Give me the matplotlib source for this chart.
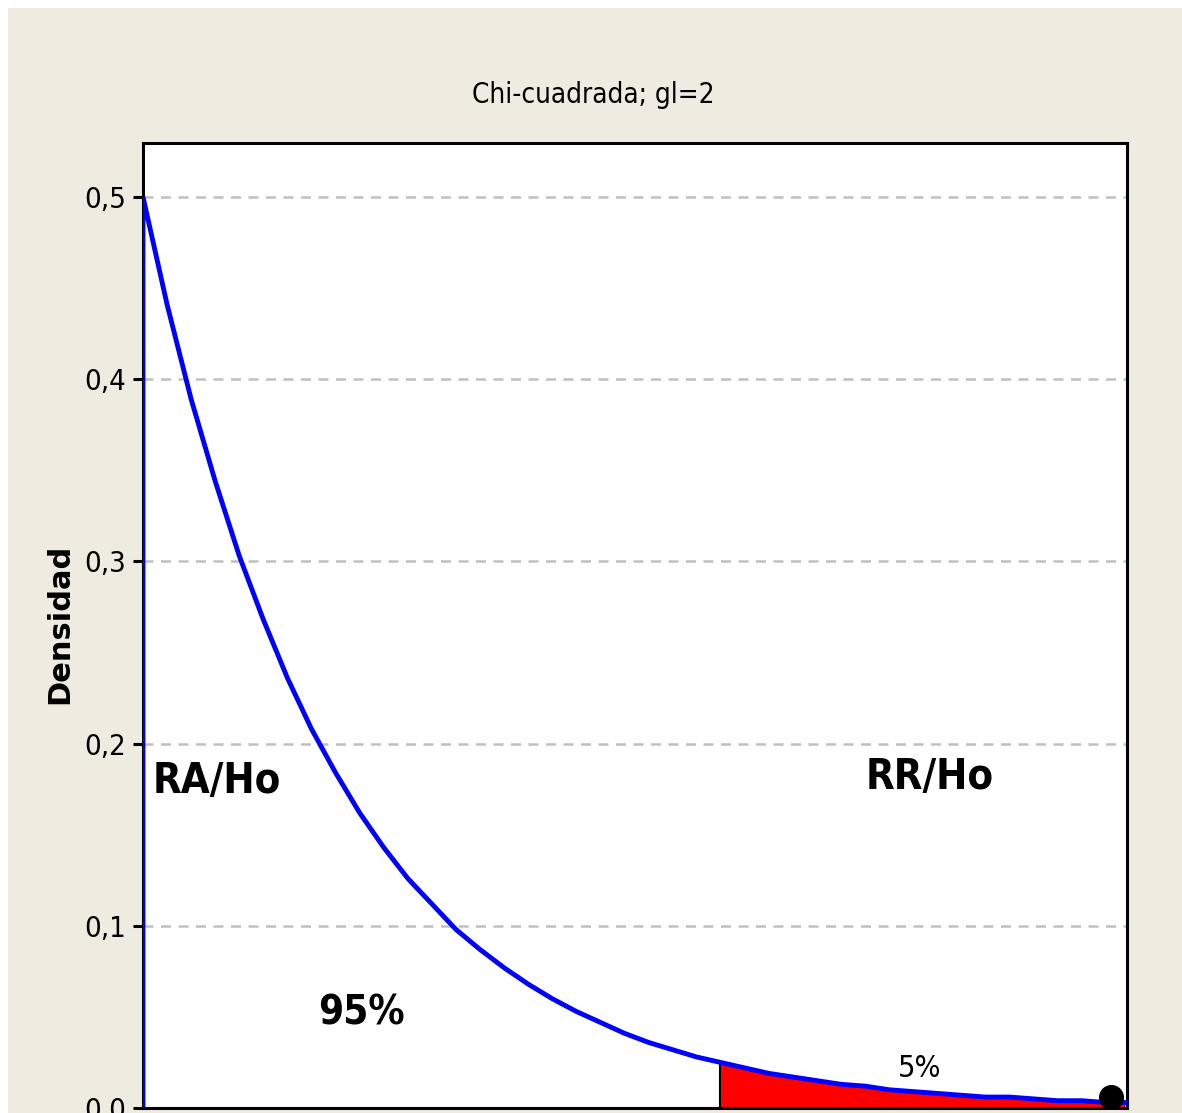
import numpy as np
import matplotlib
matplotlib.use("Agg")
import matplotlib.pyplot as plt
from matplotlib.patches import Rectangle

# density (chi-square, 2 d.f.)
x_vals = [0.0, 0.0, 0.25, 0.5, 0.75, 1.0, 1.25, 1.5, 1.75, 2.0, 2.25, 2.5, 2.75,
          3.0, 3.25, 3.5, 3.75, 4.0, 4.25, 4.5, 4.75, 5.0, 5.25, 5.5, 5.75,
          6.0, 6.25, 6.5, 6.75, 7.0, 7.25, 7.5, 7.75, 8.0, 8.25, 8.5, 8.75,
          9.0, 9.25, 9.5, 9.75, 10.0, 10.2]
densities = [0.0, 0.500, 0.441, 0.389, 0.344, 0.303, 0.268, 0.236, 0.208, 0.184,
             0.162, 0.143, 0.126, 0.112, 0.098, 0.087, 0.077, 0.068, 0.060,
             0.053, 0.047, 0.041, 0.036, 0.032, 0.028, 0.025, 0.022, 0.019,
             0.017, 0.015, 0.013, 0.012, 0.010, 0.009, 0.008, 0.007, 0.006,
             0.006, 0.005, 0.004, 0.004, 0.003, 0.003]
critical_value = 5.991
y_ticks = [0.0, 0.1, 0.2, 0.3, 0.4, 0.5]
y_tick_labels = ["0,0", "0,1", "0,2", "0,3", "0,4", "0,5"]

NARROW = dict(family="DejaVu Sans", stretch="condensed")
BG = "#EFEBE1"

fig = plt.figure(figsize=(11.82, 11.13), dpi=100)
fig.patch.set_facecolor("white")
fig.patches.append(Rectangle((8 / 1182, 0), 1, 1 - 8 / 1113, transform=fig.transFigure,
                             facecolor=BG, edgecolor="none", zorder=-10))

ax = fig.add_axes([143 / 1182, 5 / 1113, (1127 - 143) / 1182, (1108 - 143) / 1113])
ax.set_facecolor("white")
ax.set_xlim(0, 10.22)
ax.set_ylim(0, 0.5296)

x_arr = np.array(x_vals)
d_arr = np.array(densities)
tail_x = np.concatenate([[critical_value], x_arr[x_arr > critical_value]])
tail_y = np.interp(tail_x, x_arr[1:], d_arr[1:])
ax.fill_between(tail_x, 0, tail_y, color="#FF0000", zorder=2, linewidth=0)
ax.plot([critical_value, critical_value], [0, tail_y[0]], color="black", lw=1.5, zorder=3)
ax.plot(x_arr, d_arr, color="#0000FF", lw=3.5, zorder=4, solid_joinstyle="miter")
ax.plot([10.05], [0.006], marker="o", color="black", markersize=17, zorder=5, clip_on=False)

for t in y_ticks[1:]:
    ax.axhline(t, color="#C0C0C0", lw=1.8, ls=(0, (4, 3)), zorder=1)

ax.set_yticks(y_ticks)
ax.set_yticklabels(y_tick_labels, fontsize=21, **NARROW)
ax.set_xticks([])
ax.tick_params(axis="y", direction="out", length=7, width=2.2, pad=5)
for sp in ax.spines.values():
    sp.set_linewidth(2.2)

fig.text(60 / 1182, 1 - 624 / 1113, "Densidad", rotation=90, ha="center", va="center",
         fontsize=22, fontweight="bold", family="DejaVu Sans")
fig.text(593 / 1182, 1 - 103 / 1113, "Chi-cuadrada; gl=2", ha="center", va="baseline",
         fontsize=20, **NARROW)

ax.text(0.10, 0.173, "RA/Ho", fontsize=30, fontweight="bold", va="baseline", **NARROW)
ax.text(7.51, 0.175, "RR/Ho", fontsize=30, fontweight="bold", va="baseline", **NARROW)
ax.text(1.82, 0.0456, "95%", fontsize=29, fontweight="bold", va="baseline", **NARROW)
ax.text(7.84, 0.017, "5%", fontsize=22, va="baseline", **NARROW)

fig.savefig("out.png", dpi=100, facecolor=fig.get_facecolor())
